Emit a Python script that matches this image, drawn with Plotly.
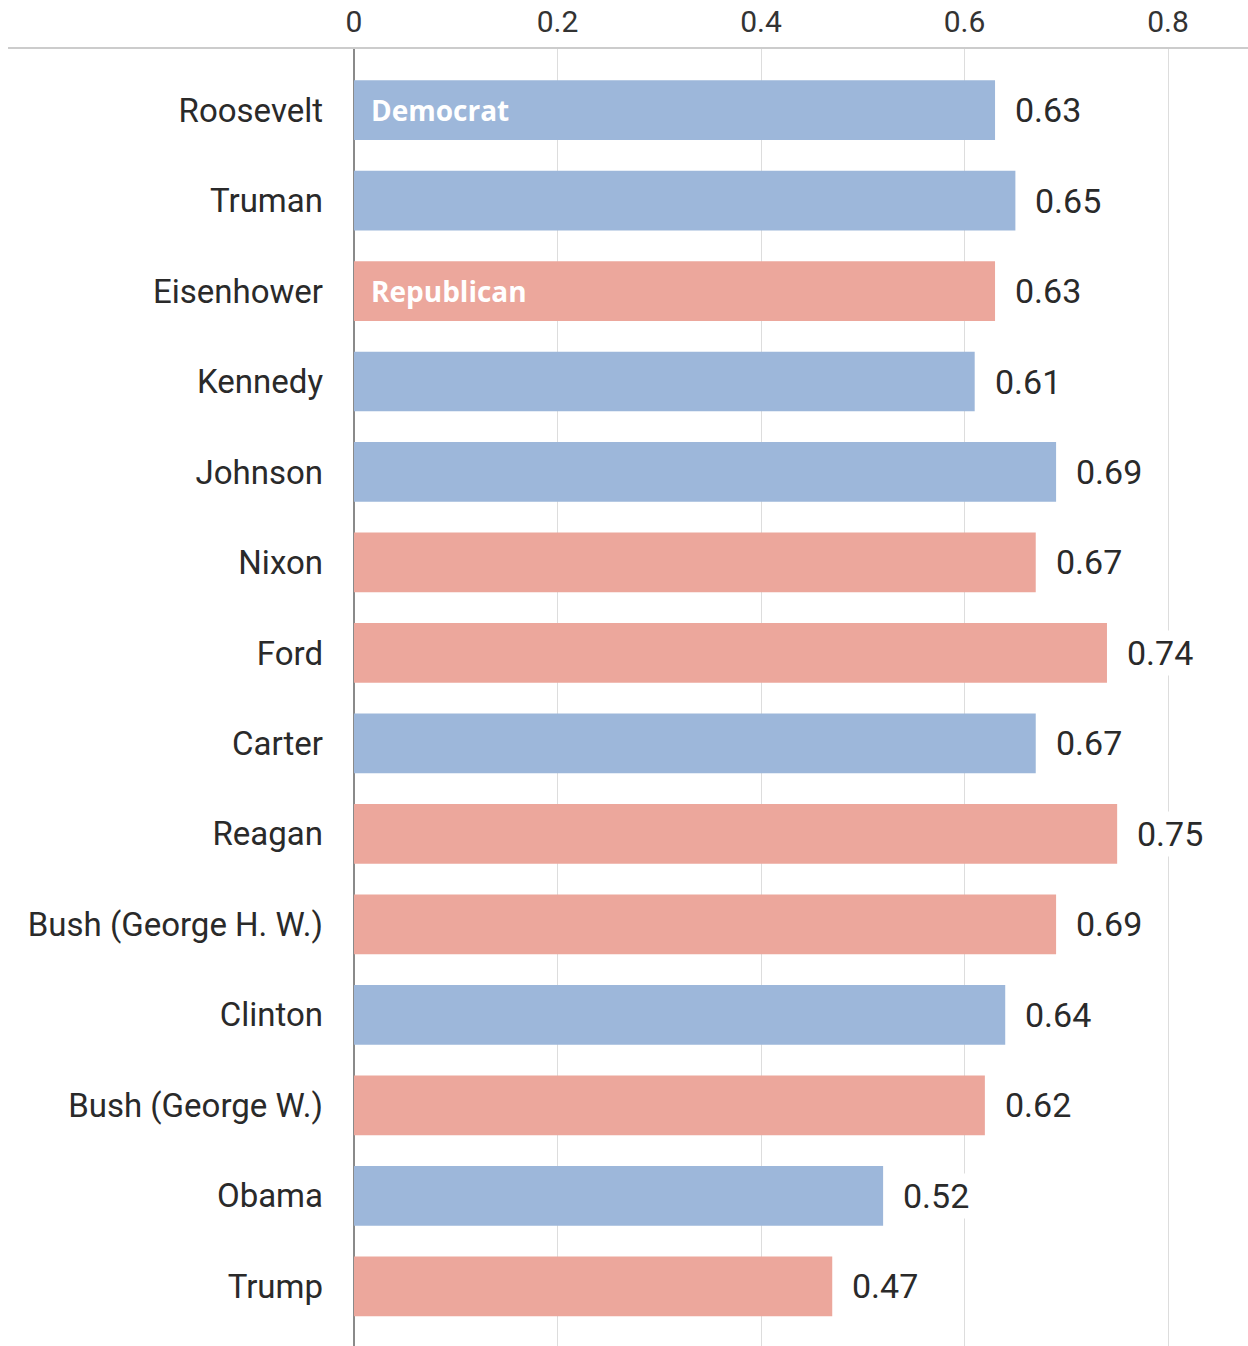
import plotly.graph_objects as go

presidents = ["Roosevelt", "Truman", "Eisenhower", "Kennedy", "Johnson", "Nixon", "Ford",
              "Carter", "Reagan", "Bush (George H. W.)", "Clinton", "Bush (George W.)",
              "Obama", "Trump"]
values = [0.63, 0.65, 0.63, 0.61, 0.69, 0.67, 0.74, 0.67, 0.75, 0.69, 0.64, 0.62, 0.52, 0.47]
party = ["D", "D", "R", "D", "D", "R", "R", "D", "R", "R", "D", "R", "D", "R"]
party_labels = {"Roosevelt": "Democrat", "Eisenhower": "Republican"}
x_ticks = [0, 0.2, 0.4, 0.6, 0.8]
x_tick_text = ["0", "0.2", "0.4", "0.6", "0.8"]

BLUE = "#9db7da"
RED = "#eca79c"
FONT = "Roboto"

colors = [BLUE if p == "D" else RED for p in party]

fig = go.Figure()
fig.add_trace(go.Bar(
    x=values, y=presidents, orientation="h",
    marker=dict(color=colors, line=dict(width=0)),
    width=0.66, hoverinfo="skip",
))

annotations = []
for name, v in zip(presidents, values):
    annotations.append(dict(
        x=v, y=name, xref="x", yref="y", text=f"{v:.2f}", showarrow=False,
        xanchor="left", yanchor="middle", xshift=17, bgcolor="white",
        borderpad=2, font=dict(family=FONT, size=34, color="#2a2a2a")))
for name, lab in party_labels.items():
    annotations.append(dict(
        x=0, y=name, xref="x", yref="y", text=f"<b>{lab}</b>", showarrow=False,
        xanchor="left", yanchor="middle", xshift=15,
        font=dict(family="Open Sans", size=28, color="white")))

fig.update_layout(
    width=1248, height=1346,
    margin=dict(l=354, r=0, t=48, b=0),
    plot_bgcolor="white", paper_bgcolor="white",
    showlegend=False, bargap=0.34,
    annotations=annotations,
    shapes=[dict(type="line", xref="paper", yref="paper", x0=-0.387, x1=1, y0=1, y1=1,
                 line=dict(color="#cccccc", width=2), layer="above")],
    xaxis=dict(
        side="top", range=[0, 0.8786], tickvals=x_ticks, ticktext=x_tick_text,
        showgrid=True, gridcolor="#dddddd", gridwidth=1,
        zeroline=True, zerolinecolor="#8a8a8a", zerolinewidth=2,
        showline=False, ticks="", ticklabelstandoff=9,
        tickfont=dict(family=FONT, size=30, color="#333"), fixedrange=True,
    ),
    yaxis=dict(
        categoryorder="array", categoryarray=presidents, autorange=False,
        range=[13.66, -0.686], showgrid=False, zeroline=False, showline=False,
        ticks="", ticklabelstandoff=30,
        tickfont=dict(family=FONT, size=33, color="#2a2a2a"), fixedrange=True,
    ),
)

fig.write_html("out.html")
